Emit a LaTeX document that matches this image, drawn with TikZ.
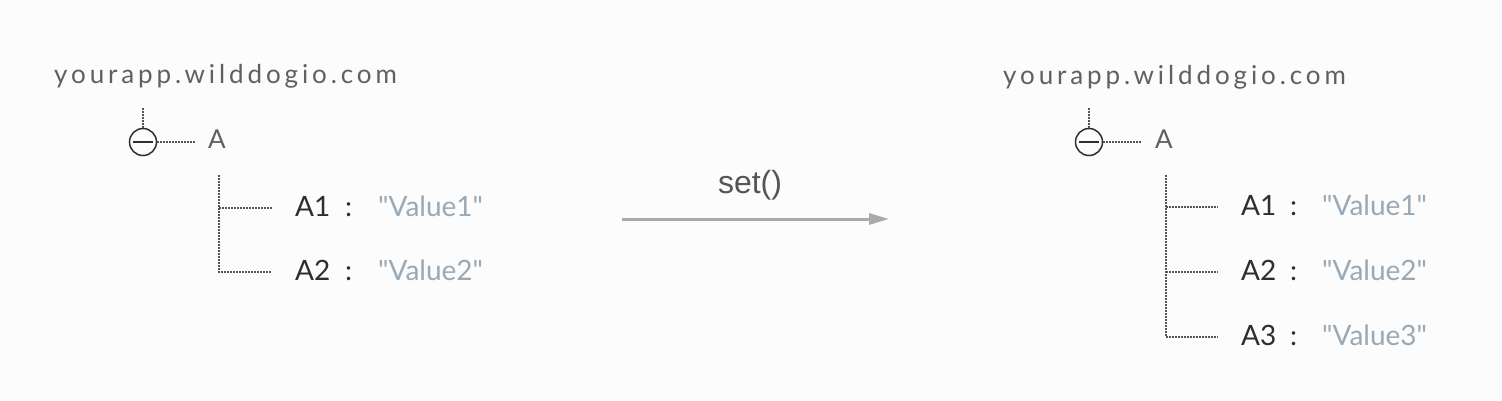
\documentclass[tikz,border=0pt]{standalone}
\usepackage{fontspec}
\setmainfont{Lato}
\newfontfamily\hostfont[LetterSpace=15]{Lato}
\newfontfamily\setfont{Liberation Sans}
\usetikzlibrary{arrows.meta}
\definecolor{bgcol}{HTML}{FCFCFC}
\definecolor{hostcol}{HTML}{606060}
\definecolor{keycol}{HTML}{2E2E2E}
\definecolor{valcol}{HTML}{9AA9B6}
\definecolor{dotcol}{HTML}{555555}
\definecolor{arrcol}{HTML}{AAAAAA}
\definecolor{setcol}{HTML}{555555}
\newcommand{\qv}[1]{\textquotedbl#1\textquotedbl}
\begin{document}
\begin{tikzpicture}[x=1pt,y=-1pt,
  host/.style={anchor=base west, inner sep=0, text=hostcol, font=\hostfont\fontsize{26}{30}\selectfont},
  atxt/.style={anchor=base west, inner sep=0, text=hostcol, font=\fontsize{26}{30}\selectfont},
  keytxt/.style={anchor=base west, inner sep=0, text=keycol, font=\fontsize{28}{32}\selectfont},
  valtxt/.style={anchor=base west, inner sep=0, text=valcol, font=\fontsize{28}{32}\selectfont},
  dots/.style={draw=dotcol, line width=1.5pt, dash pattern=on 1.5pt off 1.5pt},
  toggle/.style={circle, draw=keycol, line width=1.5pt, minimum size=27pt, inner sep=0},
  arrowline/.style={draw=arrcol, line width=3pt, -{Triangle[length=20pt,width=11pt]}}
]
\fill[bgcol] (0,0) rectangle (1502,400);
\useasboundingbox (0,0) rectangle (1502,400);

% ---------- left tree ----------
\node[host] (lhost) at (54,83) {yourapp.wilddogio.com};
\coordinate (ltop) at (143,108);
\node[toggle] (ltog) at (143,142) {};
\draw[keycol, line width=1.5pt] ([xshift=4.5pt]ltog.west) -- ([xshift=-4.5pt]ltog.east);
\draw[dots] (ltop) -- (ltog.north);
\node[atxt] (lA) at (208,148) {A};
\coordinate (lAe) at (195,142);
\draw[dots] (ltog.east) -- (lAe);
\coordinate (lvtop) at (219,175);
\coordinate (lb1) at (219,208);
\coordinate (lb2) at (219,272);
\coordinate (le1) at (272,208);
\coordinate (le2) at (272,272);
\draw[dots] (lvtop) -- (lb2) -- (le2);
\draw[dots] (lb1) -- (le1);
\node[keytxt] (lk1) at (295,216) {A1};
\node[keytxt] (lc1) at (345,216) {:};
\node[valtxt] (lv1) at (378,216) {\qv{Value1}};
\node[keytxt] (lk2) at (295,280) {A2};
\node[keytxt] (lc2) at (345,280) {:};
\node[valtxt] (lv2) at (378,280) {\qv{Value2}};

% ---------- arrow ----------
\coordinate (arrS) at (622,219);
\coordinate (arrE) at (889,219);
\draw[arrowline] (arrS) -- (arrE);
\node[text=setcol, font=\setfont\fontsize{32}{36}\selectfont, inner sep=0] (setlbl) at (750,185) {set()};

% ---------- right tree ----------
\node[host] (rhost) at (1003,84) {yourapp.wilddogio.com};
\coordinate (rtop) at (1089,108);
\node[toggle] (rtog) at (1089,142) {};
\draw[keycol, line width=1.5pt] ([xshift=4.5pt]rtog.west) -- ([xshift=-4.5pt]rtog.east);
\draw[dots] (rtop) -- (rtog.north);
\node[atxt] (rA) at (1155,148) {A};
\coordinate (rAe) at (1141,142);
\draw[dots] (rtog.east) -- (rAe);
\coordinate (rvtop) at (1166,175);
\coordinate (rb1) at (1166,207);
\coordinate (rb2) at (1166,272);
\coordinate (rb3) at (1166,337);
\coordinate (re1) at (1218,207);
\coordinate (re2) at (1218,272);
\coordinate (re3) at (1218,337);
\draw[dots] (rvtop) -- (rb3) -- (re3);
\draw[dots] (rb1) -- (re1);
\draw[dots] (rb2) -- (re2);
\node[keytxt] (rk1) at (1241,215) {A1};
\node[keytxt] (rc1) at (1290,215) {:};
\node[valtxt] (rv1) at (1322,215) {\qv{Value1}};
\node[keytxt] (rk2) at (1241,280) {A2};
\node[keytxt] (rc2) at (1290,280) {:};
\node[valtxt] (rv2) at (1322,280) {\qv{Value2}};
\node[keytxt] (rk3) at (1241,345) {A3};
\node[keytxt] (rc3) at (1290,345) {:};
\node[valtxt] (rv3) at (1322,345) {\qv{Value3}};
\end{tikzpicture}
\end{document}
